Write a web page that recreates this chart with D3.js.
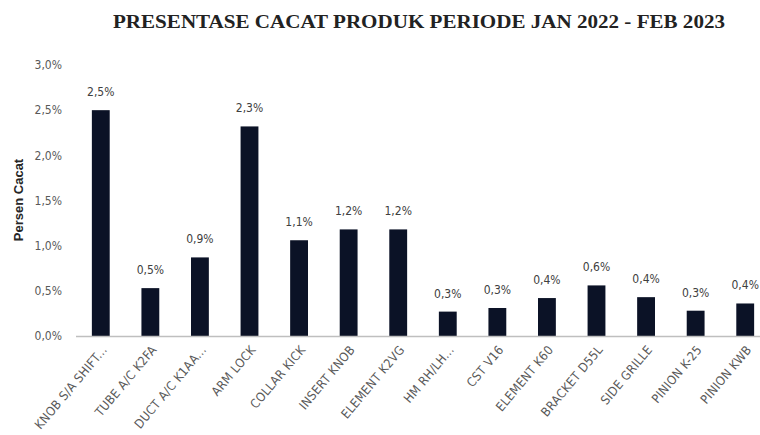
<!DOCTYPE html>
<html>
<head>
<meta charset="utf-8">
<script src="https://cdn.jsdelivr.net/npm/d3@7.9.0/dist/d3.min.js"></script>
<style>
  body { margin: 0; background: #fff; }
  svg { display: block; }
</style>
</head>
<body>
<div id="chart"></div>
<script>
// data
const categories = [
  "KNOB S/A SHIFT...", "TUBE A/C K2FA", "DUCT A/C K1AA...", "ARM LOCK",
  "COLLAR KICK", "INSERT KNOB", "ELEMENT K2VG", "HM RH/LH...", "CST V16",
  "ELEMENT K60", "BRACKET D55L", "SIDE GRILLE", "PINION K-25", "PINION KWB"
];
const defectPct = [2.50, 0.53, 0.87, 2.32, 1.06, 1.18, 1.18, 0.27, 0.31, 0.42, 0.56, 0.43, 0.28, 0.36];
const yTicks = [0, 0.5, 1.0, 1.5, 2.0, 2.5, 3.0];

const width = 760, height = 435;
const margin = { top: 65, right: -10, bottom: 99, left: 76 };
const labelFont = "'DejaVu Sans Condensed', 'Liberation Sans', sans-serif";

const svg = d3.select("#chart").append("svg")
  .attr("width", width)
  .attr("height", height);

const x = d3.scaleBand()
  .domain(categories)
  .range([margin.left, width - margin.right])
  .paddingInner(0.64)
  .paddingOuter(0.32);

const y = d3.scaleLinear()
  .domain([0, 3])
  .range([height - margin.bottom, margin.top]);

const pct = d => d3.format(".1f")(d).replace(".", ",") + "%";

// title
svg.append("text")
  .attr("x", 419)
  .attr("y", 28)
  .attr("text-anchor", "middle")
  .attr("textLength", 612)
  .attr("lengthAdjust", "spacingAndGlyphs")
  .style("font-family", "'Liberation Serif', 'DejaVu Serif', serif")
  .style("font-weight", "bold")
  .style("font-size", "19px")
  .style("fill", "#222")
  .text("PRESENTASE CACAT PRODUK PERIODE JAN 2022 - FEB 2023");

// y axis (labels only)
svg.append("g")
  .selectAll("text")
  .data(yTicks)
  .join("text")
  .attr("x", 62)
  .attr("y", d => y(d))
  .attr("dy", "0.35em")
  .attr("text-anchor", "end")
  .style("font-family", labelFont)
  .style("font-size", "12px")
  .style("fill", "#595959")
  .text(pct);

svg.append("text")
  .attr("transform", `translate(18,200) rotate(-90)`)
  .attr("text-anchor", "middle")
  .attr("dy", "0.35em")
  .style("font-family", "'Liberation Sans', sans-serif")
  .style("font-weight", "bold")
  .style("font-size", "13px")
  .style("fill", "#262626")
  .text("Persen Cacat");

// bars
svg.append("g")
  .selectAll("rect")
  .data(defectPct)
  .join("rect")
  .attr("x", (d, i) => x(categories[i]))
  .attr("y", d => y(d))
  .attr("width", x.bandwidth())
  .attr("height", d => y(0) - y(d))
  .attr("fill", "#0b1226");

// value labels
svg.append("g")
  .selectAll("text")
  .data(defectPct)
  .join("text")
  .attr("x", (d, i) => x(categories[i]) + x.bandwidth() / 2)
  .attr("y", d => y(d) - 14)
  .attr("text-anchor", "middle")
  .style("font-family", labelFont)
  .style("font-size", "12px")
  .style("fill", "#404040")
  .text(pct);

// baseline
svg.append("line")
  .attr("x1", margin.left)
  .attr("x2", width)
  .attr("y1", y(0) + 0.5)
  .attr("y2", y(0) + 0.5)
  .attr("stroke", "#bfbfbf")
  .attr("stroke-width", 1.5);

// category labels
svg.append("g")
  .selectAll("text")
  .data(categories)
  .join("text")
  .attr("transform", d => `translate(${x(d) + x.bandwidth() / 2 + 7},${y(0) + 14}) rotate(-50)`)
  .attr("text-anchor", "end")
  .style("font-family", labelFont)
  .style("font-size", "12.5px")
  .style("letter-spacing", "0.3px")
  .style("fill", "#595959")
  .text(d => d);
</script>
</body>
</html>
